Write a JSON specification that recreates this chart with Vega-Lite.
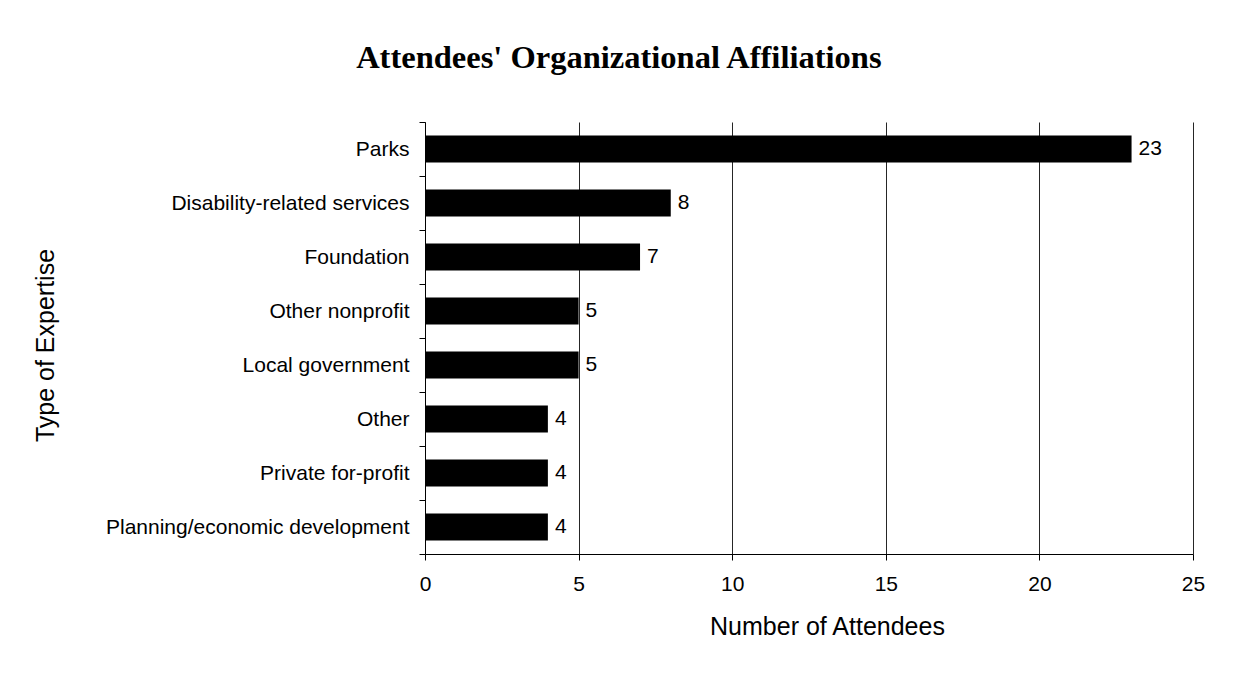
{
  "$schema": "https://vega.github.io/schema/vega-lite/v6.json",
  "autosize": {"type": "none"},
  "width": 768,
  "height": 432,
  "padding": {"left": 425, "top": 122, "right": 40, "bottom": 142},
  "background": "white",
  "title": {
    "text": "Attendees' Organizational Affiliations",
    "font": "Liberation Serif",
    "fontWeight": "bold",
    "fontSize": 32.5,
    "color": "black",
    "anchor": "middle",
    "frame": "bounds",
    "baseline": "alphabetic",
    "offset": 11
  },
  "config": {
    "view": {"stroke": null},
    "font": "Liberation Sans",
    "axis": {"labelColor": "black", "titleColor": "black", "domainColor": "black", "tickColor": "black", "labelFont": "Liberation Sans", "titleFont": "Liberation Sans", "titleFontWeight": "normal"}
  },
  "data": {
    "values": [
      {"category": "Parks", "count": 23},
      {"category": "Disability-related services", "count": 8},
      {"category": "Foundation", "count": 7},
      {"category": "Other nonprofit", "count": 5},
      {"category": "Local government", "count": 5},
      {"category": "Other\u2005", "count": 4},
      {"category": "Private for-profit", "count": 4},
      {"category": "Planning/economic development", "count": 4}
    ]
  },
  "encoding": {
    "y": {
      "field": "category",
      "type": "nominal",
      "sort": null,
      "scale": {"paddingInner": 0, "paddingOuter": 0},
      "axis": {
        "title": "Type of Expertise",
        "titleFontSize": 25,
        "titleAngle": -90,
        "titleX": -372,
        "titleY": 223,
        "titleAlign": "center",
        "titleBaseline": "alphabetic",
        "labelFontSize": 21,
        "labelLimit": 500,
        "labelPadding": 10,
        "tickSize": 6,
        "tickBand": "extent",
        "domainWidth": 1,
        "tickWidth": 1,
        "grid": false
      }
    }
  },
  "layer": [
    {
      "mark": {"type": "bar", "color": "black", "height": {"band": 0.5}},
      "encoding": {
        "x": {
          "field": "count",
          "type": "quantitative",
          "scale": {"domain": [0, 25], "nice": false},
          "axis": {
            "title": "Number of Attendees",
            "titleFontSize": 25,
            "titleX": 402,
            "titleY": 80,
            "titleAlign": "center",
            "titleBaseline": "alphabetic",
            "values": [0, 5, 10, 15, 20, 25],
            "labelFontSize": 21,
            "labelFlush": false,
            "labelPadding": 13,
            "tickSize": 6,
            "grid": true,
            "gridColor": "black",
            "gridWidth": 1,
            "gridOpacity": 0.85
          }
        }
      }
    },
    {
      "mark": {"type": "text", "align": "left", "baseline": "middle", "dx": 7, "fontSize": 21, "color": "black", "font": "Liberation Sans"},
      "encoding": {
        "x": {"field": "count", "type": "quantitative"},
        "text": {"field": "count", "type": "quantitative"}
      }
    }
  ]
}
